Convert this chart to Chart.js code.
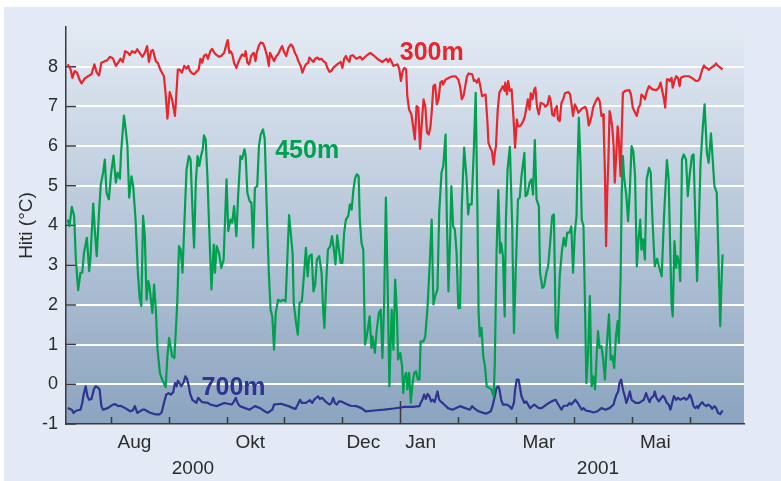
<!DOCTYPE html>
<html>
<head>
<meta charset="utf-8">
<script src="https://cdn.jsdelivr.net/npm/chart.js@4.4.0/dist/chart.umd.min.js"></script>
<style>
  html, body { margin: 0; padding: 0; background: #fff; }
  #wrap { width: 781px; height: 481px; }
</style>
</head>
<body>
<div id="wrap"><canvas id="tempChart" width="781" height="481"></canvas></div>
<script>
// x values are in months: 1 = start of Aug 2000, 6 = start of Jan 2001, 11 = start of Jun 2001
const monthTicks = [1, 2, 3, 4, 5, 6, 7, 8, 9, 10, 11];
const monthLabelPos = [1.41, 3.41, 5.36, 6.35, 8.39, 10.40];
const monthLabels = ["Aug", "Okt", "Dec", "Jan", "Mar", "Mai"];
const yearLabelPos = [2.42, 9.41];
const yearLabels = ["2000", "2001"];
const yTicks = [-1, 0, 1, 2, 3, 4, 5, 6, 7, 8];

const seriesNames = ["300m", "450m", "700m"];
const seriesNameX = [5.99, 3.84, 2.57];
const seriesNameY = [8.16, 5.71, -0.27];

// 300m
const x300 = [
  0.26,0.31,0.34,0.38,0.42,0.46,0.50,0.55,0.61,0.67,0.72,0.76,0.80,0.84,0.90,0.94,0.99,1.04,1.09,1.13,
  1.17,1.21,1.25,1.30,1.33,1.37,1.42,1.46,1.50,1.55,1.59,1.63,1.66,1.70,1.73,1.78,1.82,1.86,1.92,1.95,
  1.98,2.02,2.06,
  2.11,2.14,2.16,2.19,2.23,2.27,2.31,2.34,2.37,2.41,2.44,2.48,2.52,2.55,2.58,2.61,2.65,2.68,2.72,2.75,
  2.79,2.83,2.87,2.91,2.96,2.99,3.02,3.05,3.07,3.10,3.13,3.17,3.20,3.24,3.27,3.31,3.33,3.36,3.39,3.43,
  3.47,3.50,3.52,3.56,3.59,3.63,3.66,3.70,3.73,3.75,3.79,3.82,3.86,3.89,3.93,3.96,4.00,4.03,4.07,
  4.11,4.14,4.18,4.21,4.24,4.28,4.31,4.34,4.37,4.41,4.43,4.46,4.50,4.53,4.57,4.60,4.64,4.67,4.71,4.74,
  4.78,4.81,4.84,4.88,4.91,4.97,5.00,5.03,5.06,5.09,5.12,5.14,5.18,5.24,5.31,5.34,5.41,5.48,5.55,5.62,
  5.69,5.76,5.79,5.82,5.85,5.88,5.95,5.98,6.01,6.04,6.07,
  6.10,6.12,6.15,6.19,6.22,6.25,6.28,6.31,6.34,6.37,6.40,6.43,6.46,6.49,6.52,6.54,6.57,6.60,6.63,6.66,
  6.69,6.72,6.74,6.78,6.84,6.88,6.95,7.00,7.03,7.06,7.09,7.12,7.15,7.18,7.24,7.27,7.29,7.32,7.35,7.38,
  7.41,7.47,7.50,7.52,7.55,7.58,7.61,7.63,7.65,7.68,7.71,7.74,7.77,7.80,7.81,7.84,7.86,7.89,7.92,7.95,
  7.98,8.01,8.03,8.06,
  8.09,8.12,8.15,8.18,8.20,8.23,8.25,8.28,8.31,8.33,8.36,8.39,8.42,8.48,8.50,8.54,8.57,8.60,8.62,8.65,
  8.67,8.70,8.72,8.75,8.78,8.81,8.84,8.90,8.93,8.95,8.98,9.01,9.04,9.07,9.13,9.19,9.22,9.25,9.27,9.30,
  9.33,9.36,9.39,9.41,9.44,9.47,9.50,9.51,9.53,9.55,9.57,9.59,9.61,9.63,9.66,9.68,9.70,9.73,9.75,9.77,
  9.80,9.82,9.84,9.88,9.95,9.98,10.01,10.04,
  10.08,10.11,10.14,10.16,10.19,10.22,10.25,10.29,10.35,10.42,10.46,10.49,10.52,10.55,10.57,10.60,10.63,10.65,10.68,10.70,
  10.73,10.76,10.79,10.82,10.84,10.90,10.98,11.05,11.10,11.13,11.16,11.18,11.21,11.24,11.27,11.29,11.32,11.36,11.42,11.45,
  11.48,11.51,11.54,11.56
];
const t300 = [
  8.06,7.93,7.72,7.89,7.85,7.68,7.58,7.70,7.76,7.81,8.06,7.85,7.78,8.10,8.14,8.16,8.25,8.21,8.02,8.10,
  8.20,8.12,8.39,8.35,8.29,8.39,8.35,8.44,8.35,8.25,8.35,8.52,8.12,8.39,8.42,8.14,8.08,7.92,7.76,7.30,
  6.69,7.36,7.18,
  6.76,7.43,7.93,7.93,7.85,8.02,7.95,8.02,7.89,7.83,7.81,7.87,7.93,8.20,8.10,8.27,8.31,8.20,8.39,8.45,
  8.35,8.29,8.25,8.27,8.35,8.52,8.67,8.35,8.39,8.31,8.10,7.97,8.10,8.23,8.31,8.27,8.39,8.10,8.06,8.29,
  8.35,8.14,8.35,8.54,8.61,8.59,8.48,8.27,8.02,8.35,8.23,8.14,8.27,8.31,8.44,8.52,8.35,8.27,8.48,
  8.56,8.52,8.35,8.27,8.14,8.02,7.85,7.97,8.06,8.10,8.23,8.18,8.12,8.20,8.23,8.18,8.20,8.14,8.10,7.97,
  7.87,7.89,7.97,8.02,8.06,8.12,7.97,8.20,8.27,8.18,8.12,8.27,8.29,8.20,8.25,8.18,8.27,8.35,8.27,8.18,
  8.12,8.20,8.12,8.20,8.12,8.02,8.06,7.95,7.64,7.89,7.97,
  7.93,7.26,6.92,6.80,6.50,6.17,7.01,6.97,5.93,6.59,7.18,7.01,6.34,6.29,6.50,6.84,7.51,7.55,7.05,7.18,
  7.60,7.64,7.55,7.68,7.72,7.75,7.76,7.68,7.51,7.18,7.26,7.51,7.76,7.83,7.81,7.64,7.66,7.60,7.70,7.51,
  7.26,7.30,6.67,6.08,5.96,5.87,5.54,5.83,6.00,6.92,7.36,7.43,7.51,7.39,7.60,7.30,7.64,7.39,7.43,6.76,
  5.96,6.67,6.50,6.50,
  6.55,6.63,6.76,7.01,7.18,6.92,7.33,7.18,7.43,7.47,6.97,6.80,7.09,7.05,6.99,7.05,7.26,7.09,6.80,6.76,
  6.92,7.01,6.67,6.63,7.09,7.18,7.33,7.36,7.30,7.09,6.76,7.05,6.97,6.84,6.94,6.99,6.88,6.52,6.59,6.76,
  6.99,7.09,7.18,7.22,7.13,6.76,6.80,6.42,5.33,3.48,4.82,5.66,6.88,6.76,6.42,6.00,5.08,5.92,6.50,6.17,
  5.24,6.34,7.34,7.39,7.41,7.30,6.97,6.88,
  6.76,6.97,7.05,7.30,7.26,7.18,7.36,7.51,7.43,7.41,7.47,7.60,7.39,7.18,6.97,7.68,7.68,7.64,7.72,7.47,
  7.64,7.76,7.72,7.51,7.72,7.76,7.76,7.70,7.64,7.64,7.68,7.78,7.93,8.03,7.97,7.97,7.92,7.97,8.03,8.08,
  8.02,7.99,7.95,7.93
];

// 450m
const x450 = [
  0.26,0.29,0.33,0.37,0.40,0.44,0.48,0.51,0.54,0.59,0.63,0.65,0.70,0.73,0.76,0.80,0.83,0.87,0.90,0.93,
  0.97,1.01,1.05,1.09,1.12,1.16,1.18,1.23,1.26,1.29,1.32,1.36,1.39,1.43,1.47,1.50,1.53,1.56,1.59,1.62,
  1.65,1.67,1.72,1.75,1.78,1.81,1.85,1.89,1.95,1.98,2.01,2.06,2.10,
  2.15,2.18,2.21,2.24,2.28,2.31,2.35,2.38,2.41,2.44,2.47,2.50,2.53,2.56,2.59,2.61,2.64,2.67,2.70,2.74,
  2.78,2.80,2.83,2.87,2.91,2.95,3.00,3.03,3.07,3.10,3.13,3.17,3.20,3.24,3.27,3.31,3.33,3.36,3.40,3.43,
  3.46,3.49,3.53,3.56,3.59,3.63,3.66,3.70,3.73,3.76,3.79,3.82,3.85,3.89,3.93,3.98,4.02,4.08,
  4.14,4.16,4.20,4.23,4.26,4.30,4.34,4.37,4.40,4.43,4.47,4.50,4.53,4.56,4.60,4.64,4.67,4.69,4.72,4.75,
  4.79,4.82,4.86,4.88,4.91,4.94,4.97,5.00,5.03,5.06,5.10,5.13,5.16,5.19,5.22,5.25,5.28,5.30,5.33,5.36,
  5.39,5.42,5.47,5.50,5.52,5.56,5.59,5.63,5.66,5.69,5.72,5.75,5.78,5.81,5.85,5.88,5.91,5.94,5.96,6.00,
  6.03,6.05,6.07,
  6.10,6.12,6.15,6.18,6.21,6.24,6.27,6.30,6.33,6.35,6.40,6.43,6.47,6.51,6.54,6.57,6.60,6.64,6.67,6.71,
  6.74,6.78,6.80,6.83,6.86,6.88,6.91,6.94,6.97,7.00,7.03,7.06,7.10,7.14,7.17,7.19,7.23,7.27,7.30,7.33,
  7.35,7.37,7.40,7.43,7.46,7.49,7.57,7.61,7.63,7.66,7.69,7.72,7.74,7.77,7.80,7.82,7.85,7.89,7.93,7.96,
  7.99,8.03,8.06,
  8.09,8.14,8.16,8.19,8.23,8.26,8.29,8.32,8.35,8.39,8.41,8.45,8.48,8.52,8.55,8.58,8.62,8.65,8.68,8.71,
  8.75,8.79,8.82,8.85,8.88,8.92,8.95,8.98,9.01,9.04,9.06,9.08,9.11,9.13,9.16,9.18,9.21,9.24,9.27,9.30,
  9.33,9.36,9.39,9.41,9.44,9.47,9.50,9.53,9.56,9.60,9.63,9.66,9.69,9.72,9.75,9.77,9.80,9.82,9.84,9.86,
  9.90,9.93,9.96,9.99,10.02,10.05,
  10.08,10.11,10.14,10.16,10.19,10.22,10.25,10.29,10.32,10.35,10.39,10.43,10.47,10.51,10.55,10.60,10.63,10.65,10.68,10.70,
  10.73,10.76,10.78,10.81,10.83,10.86,10.89,10.93,10.96,10.99,11.03,11.06,11.09,11.12,11.15,11.18,11.22,11.25,11.29,11.32,
  11.36,11.39,11.42,11.46,11.49,11.52,11.54,11.56
];
const t450 = [
  4.15,3.98,4.47,4.24,3.14,2.37,2.81,2.81,3.31,3.69,2.85,3.14,4.55,3.82,3.23,4.32,5.03,5.33,5.66,4.82,
  4.66,5.33,5.76,5.08,5.33,5.18,5.83,6.77,6.42,6.00,4.70,5.24,4.99,4.15,2.81,2.18,1.97,4.24,3.73,2.13,
  2.60,2.47,1.80,2.51,1.88,0.87,0.29,0.12,-0.07,0.71,1.17,0.71,0.66,
  2.05,3.48,3.39,2.81,4.32,5.41,5.75,5.66,4.49,3.44,5.08,5.75,5.50,5.75,5.92,6.27,6.17,5.24,3.98,2.39,
  3.52,2.81,3.48,3.31,2.93,3.14,5.16,3.86,4.15,4.07,4.49,3.73,4.74,5.75,5.68,5.92,5.75,4.82,4.61,4.57,
  3.44,4.95,4.99,6.00,6.29,6.42,6.17,4.15,2.81,1.88,1.71,0.87,1.80,2.13,2.09,2.13,2.09,4.26,
  3.31,2.05,1.55,1.25,2.05,2.09,2.81,3.44,2.72,3.23,3.27,2.34,2.51,3.14,3.23,2.81,1.80,1.42,2.55,3.39,
  3.48,3.73,3.31,3.02,3.75,3.39,3.06,3.06,3.82,4.15,4.24,4.53,4.40,4.91,5.20,5.29,5.24,4.15,3.56,3.39,
  1.00,1.21,1.71,0.92,1.21,0.79,1.34,1.80,1.88,0.66,2.05,4.70,2.55,-0.05,1.88,0.87,2.64,1.80,0.62,0.79,
  0.45,-0.22,0.16,
  0.29,-0.13,0.29,-0.47,0.03,0.29,0.33,0.12,0.12,1.08,1.08,1.21,1.97,3.14,4.15,2.01,2.22,2.39,4.32,5.33,
  5.50,6.29,4.32,2.34,3.73,4.99,3.98,3.90,3.31,1.92,1.92,4.49,5.96,5.24,4.28,4.53,4.53,6.00,7.34,4.32,
  1.80,1.21,1.42,0.71,0.45,-0.05,-0.13,-0.30,0.54,3.31,4.89,3.31,3.56,3.23,1.71,4.07,5.41,5.98,3.98,1.29,
  2.81,4.66,4.70,
  5.24,5.83,4.74,4.78,5.08,5.16,4.78,6.15,4.66,4.49,2.81,2.43,2.47,2.81,2.97,3.48,4.24,4.28,1.38,1.17,
  2.72,3.39,3.69,3.48,3.82,3.82,3.98,2.81,3.82,4.24,5.66,6.71,5.50,4.15,3.98,2.47,0.03,0.79,2.22,-0.05,
  0.20,-0.13,0.79,1.34,0.92,0.96,0.62,0.12,0.96,1.76,0.62,0.71,0.41,1.21,1.59,1.04,2.64,4.82,5.75,5.24,
  4.74,4.11,4.91,6.00,5.87,5.24,
  2.97,3.65,4.15,3.39,3.65,3.14,5.16,5.45,5.33,4.15,2.97,3.16,2.93,2.72,4.24,5.65,5.16,3.82,2.01,1.71,
  3.61,2.93,3.23,3.06,2.60,5.66,5.79,5.66,4.74,5.24,5.75,5.79,4.15,2.60,3.98,5.58,6.50,7.05,5.83,5.58,
  6.32,5.66,4.99,4.82,3.14,1.46,2.47,3.27
];

// 700m
const x700 = [
  0.26,0.33,0.36,0.41,0.48,0.51,0.54,0.57,0.60,0.63,0.67,0.71,0.74,0.78,0.81,0.84,0.87,0.95,1.04,1.08,
  1.13,1.17,1.25,1.34,1.38,1.42,1.46,1.55,1.59,1.67,1.78,1.84,1.88,1.92,1.96,2.00,2.04,2.08,
  2.11,2.14,2.16,2.19,2.22,2.26,2.29,2.32,2.35,2.37,2.41,2.48,2.51,2.58,2.68,2.72,2.83,2.96,3.09,3.13,
  3.16,3.19,3.23,3.32,3.40,3.49,3.58,3.66,3.71,3.79,3.82,3.94,4.07,
  4.15,4.19,4.23,4.27,4.30,4.37,4.44,4.48,4.51,4.58,4.61,4.65,4.72,4.78,4.81,4.84,4.87,4.90,4.94,4.97,
  5.06,5.14,5.24,5.33,5.40,5.55,5.72,5.89,6.07,
  6.21,6.33,6.35,6.38,6.41,6.44,6.47,6.50,6.53,6.56,6.59,6.61,6.64,6.67,6.71,6.78,6.82,6.90,7.03,7.12,
  7.20,7.24,7.27,7.35,7.43,7.48,7.56,7.59,7.63,7.66,7.69,7.71,7.74,7.77,7.84,7.88,7.92,7.96,7.98,8.01,
  8.04,8.07,
  8.09,8.14,8.17,8.24,8.31,8.39,8.44,8.52,8.61,8.68,8.71,8.78,8.82,8.88,8.92,8.95,9.02,9.06,9.13,9.16,
  9.20,9.27,9.33,9.40,9.47,9.54,9.61,9.68,9.70,9.73,9.76,9.78,9.81,9.83,9.85,9.88,9.90,9.93,9.96,9.99,
  10.06,
  10.12,10.20,10.24,10.27,10.30,10.33,10.37,10.39,10.42,10.46,10.49,10.53,10.56,10.60,10.63,10.66,10.69,10.72,10.76,10.79,
  10.83,10.90,10.93,10.97,10.99,11.01,11.03,11.06,11.09,11.12,11.14,11.17,11.21,11.24,11.28,11.31,11.35,11.38,11.42,11.45,
  11.48,11.52,11.55,11.56
];
const t700 = [
  -0.60,-0.64,-0.72,-0.66,-0.64,-0.47,-0.22,-0.05,-0.30,-0.39,-0.37,-0.13,-0.05,-0.08,-0.13,-0.55,-0.64,-0.60,-0.51,-0.50,
  -0.55,-0.54,-0.60,-0.68,-0.66,-0.55,-0.72,-0.64,-0.64,-0.71,-0.76,-0.76,-0.71,-0.47,-0.26,-0.22,-0.26,-0.20,
  0.03,-0.05,0.09,0.03,-0.05,0.05,0.20,0.13,-0.05,-0.22,-0.39,-0.47,-0.34,-0.45,-0.47,-0.51,-0.55,-0.47,-0.51,-0.43,
  -0.34,-0.47,-0.55,-0.60,-0.64,-0.55,-0.60,-0.68,-0.72,-0.64,-0.51,-0.49,-0.55,
  -0.60,-0.62,-0.51,-0.39,-0.47,-0.47,-0.40,-0.47,-0.39,-0.30,-0.37,-0.34,-0.45,-0.51,-0.47,-0.34,-0.47,-0.51,-0.43,-0.43,
  -0.49,-0.54,-0.55,-0.60,-0.68,-0.66,-0.64,-0.61,-0.57,
  -0.57,-0.55,-0.47,-0.39,-0.26,-0.37,-0.24,-0.30,-0.43,-0.39,-0.45,-0.34,-0.18,-0.39,-0.45,-0.54,-0.60,-0.64,-0.55,-0.60,
  -0.64,-0.55,-0.60,-0.68,-0.72,-0.74,-0.68,-0.55,-0.30,-0.09,-0.05,-0.13,-0.39,-0.51,-0.51,-0.55,-0.62,-0.47,-0.13,0.12,
  0.12,-0.13,
  -0.30,-0.47,-0.43,-0.60,-0.51,-0.60,-0.60,-0.51,-0.43,-0.39,-0.47,-0.64,-0.54,-0.54,-0.47,-0.51,-0.39,-0.47,-0.64,-0.60,
  -0.66,-0.68,-0.71,-0.68,-0.60,-0.64,-0.60,-0.51,-0.39,-0.26,-0.18,0.03,0.12,-0.05,-0.18,-0.34,-0.47,-0.34,-0.18,-0.39,
  -0.47,
  -0.47,-0.39,-0.22,-0.34,-0.45,-0.34,-0.30,-0.18,-0.34,-0.43,-0.37,-0.29,-0.34,-0.47,-0.51,-0.64,-0.47,-0.30,-0.39,-0.34,
  -0.39,-0.34,-0.39,-0.34,-0.26,-0.29,-0.39,-0.55,-0.60,-0.55,-0.60,-0.51,-0.45,-0.51,-0.55,-0.51,-0.55,-0.62,-0.55,-0.60,
  -0.72,-0.75,-0.68,-0.66
];

const seriesColors = ["#e8262b", "#00a04f", "#2f3391"];
const textColor = "#2b2b2b";
const axisColor = "#3a3a3a";
const font = "Liberation Sans";

function points(xs, ys) {
  return xs.map((x, i) => ({ x: x, y: ys[i] }));
}

// background panel, plot gradient, inward ticks, series names and years
const decor = {
  id: "decor",
  beforeDraw(chart) {
    const ctx = chart.ctx;
    const a = chart.chartArea;
    ctx.save();
    ctx.fillStyle = "#ffffff";
    ctx.fillRect(0, 0, chart.width, chart.height);
    ctx.fillStyle = "#e3eaf5";
    ctx.fillRect(4, 7, chart.width - 4, chart.height - 7);
    const g = ctx.createLinearGradient(0, a.top, 0, a.bottom);
    g.addColorStop(0, "#e3eaf4");
    g.addColorStop(1, "#8ba4bf");
    ctx.fillStyle = g;
    ctx.fillRect(a.left, a.top, a.right - a.left, a.bottom - a.top);
    ctx.restore();
  },
  beforeDatasetsDraw(chart) {
    const ctx = chart.ctx;
    const a = chart.chartArea;
    const xs = chart.scales.x;
    const ys = chart.scales.y;
    ctx.save();
    ctx.strokeStyle = axisColor;
    ctx.lineWidth = 1.5;
    ctx.beginPath();
    yTicks.forEach(v => {
      const y = ys.getPixelForValue(v);
      ctx.moveTo(a.left, y);
      ctx.lineTo(a.left + 10, y);
    });
    monthTicks.forEach(m => {
      const x = Math.round(xs.getPixelForValue(m)) + 0.5;
      ctx.moveTo(x, a.bottom);
      ctx.lineTo(x, a.bottom - (m === 6 ? 23 : 7));
    });
    ctx.stroke();
    ctx.restore();
  },
  afterDatasetsDraw(chart) {
    const ctx = chart.ctx;
    const xs = chart.scales.x;
    const ys = chart.scales.y;
    ctx.save();
    ctx.font = "bold 25px '" + font + "'";
    ctx.textAlign = "left";
    ctx.textBaseline = "alphabetic";
    seriesNames.forEach((name, i) => {
      ctx.fillStyle = seriesColors[i];
      ctx.fillText(name, xs.getPixelForValue(seriesNameX[i]), ys.getPixelForValue(seriesNameY[i]));
    });
    ctx.font = "19px '" + font + "'";
    ctx.fillStyle = textColor;
    ctx.textAlign = "center";
    yearLabels.forEach((yr, i) => {
      ctx.fillText(yr, xs.getPixelForValue(yearLabelPos[i]), 474);
    });
    ctx.restore();
  }
};

new Chart(document.getElementById("tempChart"), {
  type: "line",
  data: {
    datasets: [
      { label: "300m", data: points(x300, t300), borderColor: seriesColors[0] },
      { label: "450m", data: points(x450, t450), borderColor: seriesColors[1] },
      { label: "700m", data: points(x700, t700), borderColor: seriesColors[2] }
    ]
  },
  options: {
    responsive: false,
    animation: false,
    devicePixelRatio: 1,
    layout: { padding: { left: 0, top: 27, right: 37, bottom: 0 } },
    elements: {
      point: { radius: 0 },
      line: { borderWidth: 2.2, tension: 0, borderJoinStyle: "round" }
    },
    plugins: {
      legend: { display: false },
      tooltip: { enabled: false }
    },
    scales: {
      x: {
        type: "linear",
        min: 0.23,
        max: 11.93,
        afterFit: s => { s.height = 57; },
        afterBuildTicks: s => { s.ticks = monthLabelPos.map(v => ({ value: v })); },
        ticks: {
          autoSkip: false,
          maxRotation: 0,
          padding: 7,
          color: textColor,
          font: { family: font, size: 19 },
          callback: (v, i) => monthLabels[i]
        },
        grid: { display: false, drawTicks: false },
        border: { color: axisColor, width: 1.5 }
      },
      y: {
        min: -1,
        max: 9,
        afterFit: s => { s.width = 66; },
        ticks: {
          stepSize: 1,
          padding: 8,
          color: textColor,
          font: { family: font, size: 18 },
          callback: v => (v === 9 ? "" : String(v))
        },
        grid: {
          drawTicks: false,
          lineWidth: 2,
          color: c => (c.tick && c.tick.value > -1 && c.tick.value < 9) ? "#ffffff" : "rgba(0,0,0,0)"
        },
        border: { color: axisColor, width: 1.5 },
        title: {
          display: true,
          text: "Hiti (°C)",
          color: textColor,
          font: { family: font, size: 19 },
          padding: { top: 15, bottom: 0 }
        }
      }
    }
  },
  plugins: [decor]
});
</script>
</body>
</html>
